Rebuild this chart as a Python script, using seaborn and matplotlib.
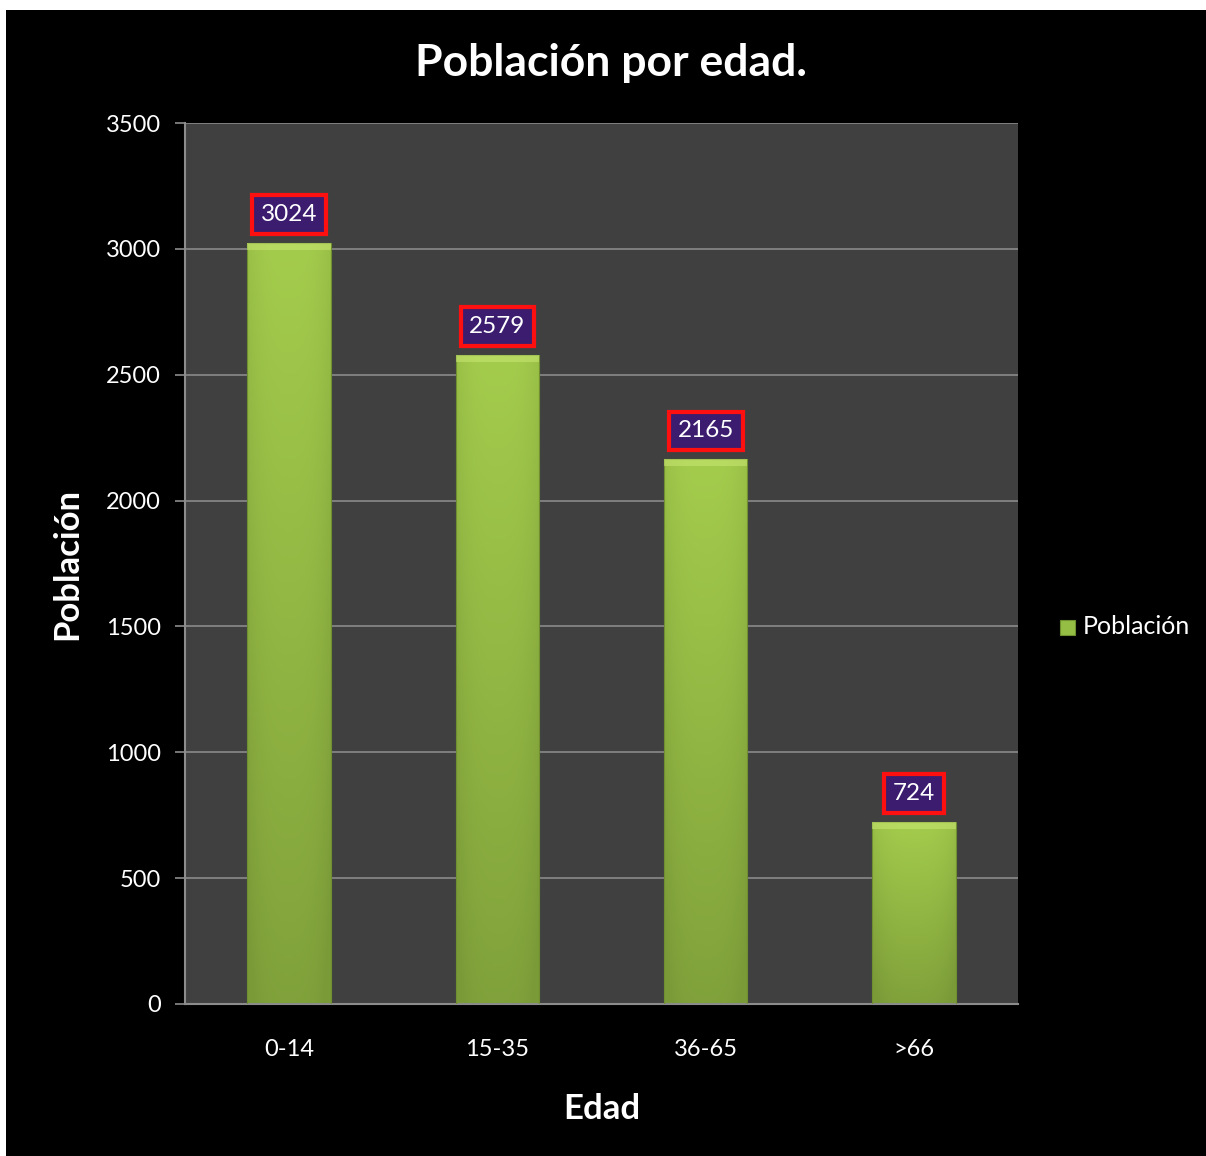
import numpy as np
import pandas as pd
import matplotlib
matplotlib.use("Agg")
import matplotlib.pyplot as plt
import seaborn as sns
from matplotlib.patches import Rectangle
from matplotlib.colors import LinearSegmentedColormap

# data
edades = ["0-14", "15-35", "36-65", ">66"]
poblacion = [3024, 2579, 2165, 724]
yticks = [0, 500, 1000, 1500, 2000, 2500, 3000, 3500]

df = pd.DataFrame({"Edad": edades, "Población": poblacion})

sns.set_theme(style="dark")
plt.rcParams['font.family'] = ['Lato', 'DejaVu Sans']

fig = plt.figure(figsize=(12.06, 11.56), dpi=100)
fig.patch.set_facecolor("white")
# black chart area with thin white margin
fig.patches.append(Rectangle((6/1206, 0), 1200/1206, 1 - 10/1156, transform=fig.transFigure,
                             facecolor="black", edgecolor="none", zorder=-10))

ax = fig.add_axes([185/1206, 1 - 1004/1156, 833/1206, 881/1156])
ax.set_facecolor("#404040")

sns.barplot(data=df, x="Edad", y="Población", color="#94bf44", width=0.4, ax=ax, zorder=3)

# gradient fill on bars
cmap = LinearSegmentedColormap.from_list("verde", ["#7a9a38", "#a4cc4c"])
grad = np.linspace(0, 1, 256).reshape(-1, 1)
side = np.abs(np.linspace(-1, 1, 64)) ** 3
img = grad * 0.85 + 0.15 - side[None, :] * 0.25
for p in ax.patches:
    x0, y0 = p.get_x(), p.get_y()
    w, h = p.get_width(), p.get_height()
    p.set_facecolor("none")
    p.set_edgecolor("#6f8f30")
    p.set_linewidth(0.8)
    im = ax.imshow(img, cmap=cmap, vmin=0, vmax=1, origin="lower", aspect="auto",
                   extent=[x0, x0 + w, y0, y0 + h], zorder=2)
    im.set_clip_path(p)
    # bevel on top
    ax.add_patch(Rectangle((x0, y0 + h - 28), w, 28, facecolor="#c6e570", edgecolor="none",
                           alpha=0.6, zorder=3))

ax.set_xlim(-0.5, 3.5)
ax.set_ylim(0, 3500)
ax.set_yticks(yticks)
ax.set_yticklabels([str(t) for t in yticks], color="white", fontsize=17)
ax.tick_params(axis="x", colors="white", labelsize=17, pad=25, length=0)
ax.tick_params(axis="y", colors="white", pad=10.5, length=7, width=1.2, left=True)
ax.tick_params(axis="y", color="#8c8c8c")
ax.grid(axis="y", color="#8a8a8a", linewidth=1.2, zorder=1)
ax.grid(axis="x", visible=False)
ax.set_axisbelow(True)
for s in ["top", "right"]:
    ax.spines[s].set_visible(False)
for s in ["left", "bottom"]:
    ax.spines[s].set_visible(True)
    ax.spines[s].set_color("#8c8c8c")
    ax.spines[s].set_linewidth(1.5)

# data labels
for i, v in enumerate(poblacion):
    ax.text(i, v + 112, str(v), ha="center", va="center", color="white", fontsize=17.5, zorder=5,
            bbox=dict(boxstyle="square,pad=0.36", facecolor="#3b1c6e", edgecolor="#ff1010", linewidth=3))

ax.set_xlabel("Edad", color="white", fontsize=25, fontweight="bold", labelpad=24)
ax.set_ylabel("Población", color="white", fontsize=25, fontweight="bold", labelpad=16)
fig.text(611/1206, 1 - 63/1156, "Población por edad.", ha="center", va="center",
         color="white", fontsize=32, fontweight="bold")

# legend
fig.patches.append(Rectangle((1060/1206, 1 - 635/1156), 15/1206, 15/1156, transform=fig.transFigure,
                             facecolor="#94bf44", edgecolor="#6f8f30", linewidth=0.8))
fig.text(1083/1206, 1 - 627/1156, "Población", ha="left", va="center", color="white", fontsize=18)

fig.savefig("out.png", dpi=100, facecolor=fig.get_facecolor())
